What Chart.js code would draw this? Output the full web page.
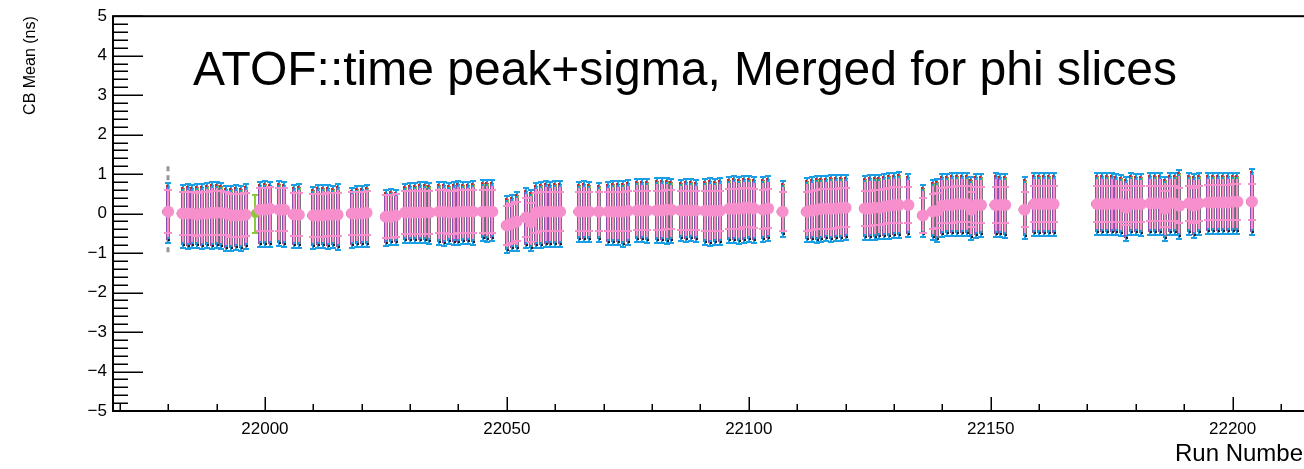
<!DOCTYPE html>
<html>
<head>
<meta charset="utf-8">
<title>ATOF time peak+sigma</title>
<script src="https://cdn.jsdelivr.net/npm/chart.js@4.4.1/dist/chart.umd.min.js"></script>
<style>
  html, body { margin: 0; padding: 0; background: #fff; overflow: hidden; }
  #wrap { width: 1340px; height: 469px; }
</style>
</head>
<body>
<div id="wrap"><canvas id="atofChart" width="1340" height="469"></canvas></div>
<script>
// Run numbers (one line per block of runs)
const runs = [
  21980, 21983, 21984, 21985, 21986, 21987, 21988, 21989, 21990, 21991, 21992, 21993, 21994, 21995, 21996,
  21999, 22000, 22001, 22003, 22004, 22006, 22007,
  22010, 22011, 22012, 22013, 22014, 22015, 22018, 22019, 22020, 22021,
  22025, 22026, 22027, 22029, 22030, 22031, 22032, 22033, 22034,
  22036, 22037, 22038, 22039, 22040, 22041, 22042, 22043, 22045, 22046, 22047,
  22050, 22051, 22052, 22054, 22055, 22056, 22057, 22058, 22059, 22060, 22061,
  22065, 22066, 22067, 22069, 22071, 22072, 22073, 22074, 22075,
  22077, 22078, 22079, 22081, 22082, 22083, 22084, 22086, 22087, 22088, 22089,
  22091, 22092, 22093, 22094, 22096, 22097, 22098, 22099, 22100, 22101, 22103, 22104, 22107,
  22112, 22113, 22114, 22115, 22116, 22117, 22118, 22119, 22120,
  22124, 22125, 22126, 22127, 22128, 22129, 22130, 22131, 22133, 22136,
  22138, 22139, 22140, 22141, 22142, 22143, 22144, 22145, 22146, 22147, 22148,
  22151, 22152, 22153, 22157, 22159, 22160, 22161, 22162, 22163,
  22172, 22173, 22174, 22175, 22176, 22177, 22178, 22179, 22180, 22181,
  22183, 22184, 22185, 22186, 22187, 22188, 22189, 22191, 22192, 22193,
  22195, 22196, 22197, 22198, 22199, 22200, 22201, 22204
];

// Merged peak (ns)
const mergedPeak = [
  0.05, 0.0, 0.0, 0.0, -0.02, 0.0, 0.0, 0.02, 0.02, 0.02, 0.0, -0.05, -0.05, -0.05, -0.03,
  0.1, 0.1, 0.12, 0.1, 0.1, -0.02, -0.03,
  -0.05, -0.05, -0.05, -0.03, -0.03, -0.03, 0.0, 0.0, 0.0, 0.02,
  -0.08, -0.08, -0.05, 0.03, 0.03, 0.03, 0.03, 0.03, 0.03,
  0.05, 0.05, 0.03, 0.03, 0.05, 0.05, 0.05, 0.05, 0.05, 0.05, 0.05,
  -0.3, -0.25, -0.2, -0.1, -0.22, 0.02, 0.05, 0.05, 0.05, 0.05, 0.05,
  0.05, 0.05, 0.05, 0.05, 0.05, 0.05, 0.05, 0.05, 0.07,
  0.08, 0.08, 0.08, 0.08, 0.08, 0.1, 0.1, 0.08, 0.08, 0.08, 0.08,
  0.07, 0.07, 0.07, 0.07, 0.12, 0.12, 0.12, 0.15, 0.15, 0.13, 0.1, 0.13, 0.05,
  0.05, 0.08, 0.1, 0.12, 0.12, 0.12, 0.13, 0.15, 0.15,
  0.13, 0.13, 0.15, 0.15, 0.18, 0.2, 0.22, 0.22, 0.22, -0.05,
  0.05, 0.08, 0.2, 0.22, 0.22, 0.24, 0.24, 0.24, 0.1, 0.22, 0.22,
  0.22, 0.22, 0.22, 0.1, 0.24, 0.24, 0.24, 0.24, 0.24,
  0.24, 0.24, 0.24, 0.24, 0.24, 0.24, 0.15, 0.24, 0.24, 0.24,
  0.26, 0.26, 0.26, 0.12, 0.26, 0.26, 0.2, 0.26, 0.2, 0.26,
  0.28, 0.28, 0.28, 0.28, 0.28, 0.3, 0.3, 0.3
];

// Merged sigma (ns)
const mergedSigma = [
  0.55, 0.55, 0.55, 0.55, 0.55, 0.55, 0.55, 0.55, 0.55, 0.55, 0.55, 0.55, 0.55, 0.55, 0.55,
  0.55, 0.55, 0.55, 0.55, 0.55, 0.55, 0.55,
  0.55, 0.55, 0.55, 0.55, 0.55, 0.55, 0.55, 0.55, 0.55, 0.55,
  0.55, 0.55, 0.55, 0.55, 0.55, 0.55, 0.55, 0.55, 0.55,
  0.55, 0.55, 0.55, 0.55, 0.55, 0.55, 0.55, 0.55, 0.55, 0.55, 0.55,
  0.5, 0.5, 0.5, 0.5, 0.5, 0.5, 0.5, 0.5, 0.5, 0.5, 0.5,
  0.5, 0.5, 0.5, 0.5, 0.5, 0.5, 0.5, 0.5, 0.5,
  0.5, 0.5, 0.5, 0.5, 0.5, 0.5, 0.5, 0.5, 0.5, 0.5, 0.5,
  0.5, 0.5, 0.5, 0.5, 0.5, 0.5, 0.5, 0.5, 0.5, 0.5, 0.5, 0.5, 0.5,
  0.5, 0.5, 0.5, 0.5, 0.5, 0.5, 0.5, 0.5, 0.5,
  0.45, 0.45, 0.45, 0.45, 0.45, 0.45, 0.45, 0.45, 0.45, 0.45,
  0.45, 0.45, 0.45, 0.45, 0.45, 0.45, 0.45, 0.45, 0.45, 0.45, 0.45,
  0.45, 0.45, 0.45, 0.45, 0.45, 0.45, 0.45, 0.45, 0.45,
  0.45, 0.45, 0.45, 0.45, 0.45, 0.45, 0.45, 0.45, 0.45, 0.45,
  0.45, 0.45, 0.45, 0.45, 0.45, 0.45, 0.45, 0.45, 0.45, 0.45,
  0.45, 0.45, 0.45, 0.45, 0.45, 0.45, 0.45, 0.45
];

// Upper end of the phi-slice error bars (ns)
const sliceHigh = [
  0.78, 0.72, 0.75, 0.72, 0.75, 0.75, 0.78, 0.8, 0.8, 0.78, 0.7, 0.7, 0.72, 0.7, 0.75,
  0.8, 0.82, 0.8, 0.82, 0.8, 0.72, 0.75,
  0.68, 0.72, 0.72, 0.72, 0.7, 0.75, 0.65, 0.7, 0.7, 0.72,
  0.6, 0.62, 0.6, 0.75, 0.78, 0.78, 0.8, 0.8, 0.78,
  0.8, 0.8, 0.78, 0.8, 0.82, 0.8, 0.8, 0.82, 0.85, 0.85, 0.85,
  0.45, 0.48, 0.55, 0.65, 0.6, 0.78, 0.8, 0.82, 0.8, 0.82, 0.82,
  0.8, 0.82, 0.8, 0.78, 0.8, 0.82, 0.82, 0.82, 0.85,
  0.88, 0.87, 0.88, 0.9, 0.9, 0.9, 0.88, 0.85, 0.87, 0.87, 0.85,
  0.88, 0.9, 0.88, 0.9, 0.93, 0.95, 0.93, 0.95, 0.95, 0.93, 0.93, 0.95, 0.82,
  0.9, 0.92, 0.95, 0.95, 0.95, 0.97, 0.97, 0.98, 0.98,
  0.95, 0.97, 0.97, 0.98, 1.0, 1.02, 1.03, 1.05, 1.0, 0.72,
  0.85, 0.88, 1.0, 1.0, 1.02, 1.02, 1.02, 1.02, 0.92, 1.0, 1.0,
  1.02, 1.0, 1.0, 0.92, 1.02, 1.02, 1.02, 1.03, 1.02,
  1.02, 1.03, 1.03, 1.03, 1.0, 0.98, 0.92, 1.02, 1.0, 1.0,
  1.02, 1.03, 1.02, 0.92, 1.03, 1.02, 1.1, 1.02, 1.0, 1.02,
  1.02, 1.03, 1.02, 1.02, 1.03, 1.02, 1.02, 1.12
];

// Lower end of the phi-slice error bars (ns)
const sliceLow = [
  -0.75, -0.88, -0.9, -0.88, -0.88, -0.9, -0.88, -0.9, -0.88, -0.9, -0.95, -0.95, -0.92, -0.95, -0.9,
  -0.85, -0.85, -0.85, -0.82, -0.85, -0.88, -0.88,
  -0.9, -0.88, -0.88, -0.9, -0.88, -0.92, -0.88, -0.85, -0.85, -0.85,
  -0.82, -0.8, -0.8, -0.75, -0.75, -0.75, -0.75, -0.75, -0.78,
  -0.8, -0.82, -0.78, -0.8, -0.8, -0.78, -0.78, -0.8, -0.7, -0.72, -0.7,
  -1.0, -0.95, -0.95, -0.88, -0.95, -0.88, -0.88, -0.85, -0.85, -0.85, -0.85,
  -0.72, -0.72, -0.72, -0.72, -0.8, -0.8, -0.8, -0.85, -0.8,
  -0.72, -0.72, -0.75, -0.75, -0.75, -0.78, -0.75, -0.7, -0.72, -0.7, -0.72,
  -0.8, -0.82, -0.8, -0.8, -0.75, -0.75, -0.78, -0.75, -0.72, -0.75, -0.72, -0.7, -0.6,
  -0.72, -0.72, -0.75, -0.72, -0.7, -0.72, -0.7, -0.7, -0.68,
  -0.68, -0.68, -0.68, -0.65, -0.65, -0.65, -0.62, -0.62, -0.6, -0.6,
  -0.68, -0.72, -0.6, -0.58, -0.58, -0.58, -0.58, -0.58, -0.68, -0.62, -0.6,
  -0.6, -0.6, -0.62, -0.65, -0.58, -0.58, -0.58, -0.58, -0.58,
  -0.55, -0.55, -0.55, -0.55, -0.55, -0.58, -0.7, -0.55, -0.55, -0.58,
  -0.55, -0.55, -0.55, -0.7, -0.55, -0.55, -0.65, -0.55, -0.62, -0.55,
  -0.52, -0.52, -0.52, -0.52, -0.52, -0.52, -0.52, -0.55
];

// Single slice with a wide (dashed) spread
const wideRuns = [21980];
const wideHigh = [1.2];
const wideLow = [-1.05];

// Run with only one slice filled
const singleRuns = [21998];
const singlePeak = [0.0];
const singleSigma = [0.48];

const xTickValues = [22000, 22050, 22100, 22150, 22200];
const yTickValues = [-5, -4, -3, -2, -1, 0, 1, 2, 3, 4, 5];

const PINK = 'rgb(247,143,204)';
const BLUE = 'rgb(28,158,228)';
const GRAY = 'rgb(120,118,128)';
const PURPLE = 'rgb(140,80,170)';
const GREEN = 'rgb(140,200,60)';
const FONT = '"Liberation Sans", Arial, Helvetica, sans-serif';

// error bars for slices and the merged result, drawn under the markers
const errorBars = {
  id: 'errorBars',
  beforeDatasetsDraw(chart) {
    const { ctx, chartArea: a, scales: { x, y } } = chart;
    ctx.save();
    ctx.beginPath();
    ctx.rect(a.left, a.top, a.width, a.height);
    ctx.clip();

    // wide slice, gray dashed
    ctx.strokeStyle = 'rgb(150,150,150)';
    ctx.lineWidth = 3;
    ctx.setLineDash([5, 4]);
    wideRuns.forEach((r, i) => {
      const px = Math.round(x.getPixelForValue(r));
      ctx.beginPath();
      ctx.moveTo(px, y.getPixelForValue(wideHigh[i]));
      ctx.lineTo(px, y.getPixelForValue(wideLow[i]));
      ctx.stroke();
    });
    ctx.setLineDash([]);

    runs.forEach((r, i) => {
      const px = Math.round(x.getPixelForValue(r));
      const yh = Math.round(y.getPixelForValue(sliceHigh[i]));
      const yl = Math.round(y.getPixelForValue(sliceLow[i]));
      // column body: purple | pink | gray
      ctx.fillStyle = PURPLE;
      ctx.fillRect(px - 2, yh + 3, 1, yl - yh - 6);
      ctx.fillStyle = PINK;
      ctx.fillRect(px - 1, yh + 4, 2, yl - yh - 8);
      ctx.fillStyle = GRAY;
      ctx.fillRect(px + 1, yh + 3, 1, yl - yh - 6);
      // blue ends of the slice bars: short stems and caps
      ctx.fillStyle = BLUE;
      ctx.fillRect(px - 1, yh, 2, 6);
      ctx.fillRect(px - 1, yl - 6, 2, 6);
      ctx.fillRect(px - 3, yh - 1, 6, 2);
      ctx.fillRect(px - 3, yl - 1, 6, 2);
      // other slices' caps
      ctx.fillStyle = 'rgb(200,40,40)';
      ctx.fillRect(px - 2, yh + 2, 2, 2);
      ctx.fillStyle = 'rgb(40,30,40)';
      ctx.fillRect(px, yl - 4, 2, 2);
      ctx.fillStyle = 'rgb(150,200,70)';
      ctx.fillRect(px + 1, yh + 4, 1, 2);
    });

    // merged sigma ticks
    ctx.fillStyle = PINK;
    runs.forEach((r, i) => {
      const px = Math.round(x.getPixelForValue(r));
      const sp = Math.round(y.getPixelForValue(mergedPeak[i] + mergedSigma[i]));
      const sm = Math.round(y.getPixelForValue(mergedPeak[i] - mergedSigma[i]));
      ctx.fillRect(px - 4, sp - 1, 8, 2);
      ctx.fillRect(px - 4, sm - 1, 8, 2);
    });

    // slice markers peeking out left of the merged point
    ctx.fillStyle = 'rgb(90,40,70)';
    runs.forEach((r, i) => {
      const px = x.getPixelForValue(r);
      ctx.beginPath();
      ctx.arc(px - 3, y.getPixelForValue(mergedPeak[i]), 3, 0, Math.PI * 2);
      ctx.fill();
    });

    // single-slice run
    ctx.fillStyle = GREEN;
    singleRuns.forEach((r, i) => {
      const px = Math.round(x.getPixelForValue(r));
      const yh = Math.round(y.getPixelForValue(singlePeak[i] + singleSigma[i]));
      const yl = Math.round(y.getPixelForValue(singlePeak[i] - singleSigma[i]));
      ctx.fillRect(px - 1, yh, 2, yl - yh);
      ctx.fillRect(px - 3, yh - 1, 6, 2);
      ctx.fillRect(px - 3, yl - 1, 6, 2);
    });
    ctx.restore();
  }
};

// ROOT-like frame, inward ticks and the pad title
const frame = {
  id: 'frame',
  afterDraw(chart) {
    const { ctx, chartArea: a, scales: { x, y } } = chart;
    ctx.save();
    ctx.fillStyle = '#000';
    // y ticks: major every 1, minor every 0.2
    for (let k = -25; k <= 25; k++) {
      const py = Math.round(y.getPixelForValue(k / 5));
      const len = k % 5 === 0 ? 30 : 15;
      ctx.fillRect(a.left, py - 0.5, len, 1.5);
    }
    // x ticks: major every 50, minor every 10
    for (let v = 21970; v <= x.max; v += 10) {
      const px = Math.round(x.getPixelForValue(v));
      const len = v % 50 === 0 ? 14 : 7;
      ctx.fillRect(px - 0.5, a.bottom - len, 1.5, len);
    }
    ctx.strokeStyle = '#000';
    ctx.lineWidth = 2;
    ctx.strokeRect(a.left, a.top, a.right - a.left, a.bottom - a.top);

    ctx.font = '48px ' + FONT;
    ctx.textAlign = 'left';
    ctx.textBaseline = 'alphabetic';
    ctx.fillText('ATOF::time peak+sigma, Merged for phi slices', 193, 85);
    ctx.restore();
  }
};

const config = {
  type: 'scatter',
  data: {
    datasets: [
      {
        label: 'Merged',
        data: runs.map((r, i) => ({ x: r, y: mergedPeak[i] })),
        backgroundColor: PINK,
        borderWidth: 0,
        pointRadius: 6
      },
      {
        label: 'Slice',
        data: singleRuns.map((r, i) => ({ x: r, y: singlePeak[i] })),
        backgroundColor: GREEN,
        borderWidth: 0,
        pointRadius: 4.5
      }
    ]
  },
  options: {
    responsive: false,
    animation: false,
    layout: { autoPadding: false, padding: { left: 0, top: 14, right: 29, bottom: 0 } },
    plugins: { legend: { display: false }, tooltip: { enabled: false } },
    scales: {
      x: {
        type: 'linear',
        min: 21968.6,
        max: 22216.2,
        grid: { display: false, drawTicks: false },
        border: { display: false },
        afterBuildTicks: (s) => { s.ticks = xTickValues.map(v => ({ value: v })); },
        afterFit: (s) => { s.height = 58; },
        ticks: {
          color: '#000',
          padding: 8,
          maxRotation: 0,
          font: { family: FONT, size: 17 },
          callback: (v) => String(v)
        },
        title: {
          display: true,
          text: 'Run Number',
          align: 'end',
          color: '#000',
          font: { family: FONT, size: 24 },
          padding: { top: 0, bottom: 0 }
        }
      },
      y: {
        min: -5,
        max: 5,
        grid: { display: false, drawTicks: false },
        border: { display: false },
        afterBuildTicks: (s) => { s.ticks = yTickValues.map(v => ({ value: v })); },
        afterFit: (s) => { s.width = 113; },
        ticks: {
          color: '#000',
          padding: 6,
          font: { family: FONT, size: 17 },
          callback: (v) => (v < 0 ? '\u2212' + Math.abs(v) : String(v))
        },
        title: {
          display: true,
          text: 'CB Mean (ns)',
          align: 'end',
          color: '#000',
          font: { family: FONT, size: 16 },
          padding: { top: 21, bottom: 0 }
        }
      }
    }
  },
  plugins: [errorBars, frame]
};

new Chart(document.getElementById('atofChart'), config);
</script>
</body>
</html>
